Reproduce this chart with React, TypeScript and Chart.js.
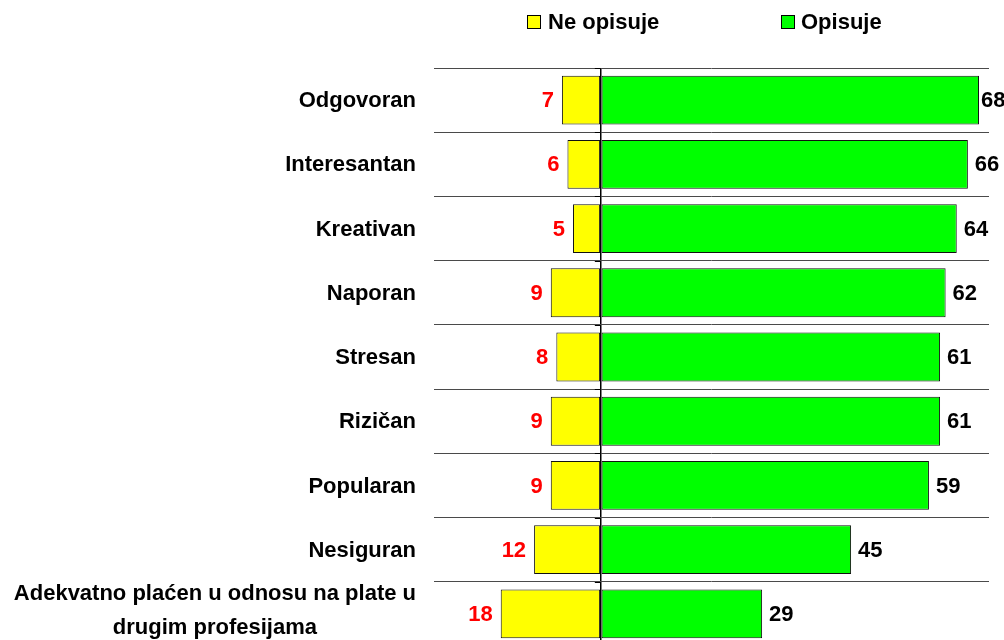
import React, { useEffect, useRef } from "react";
import { Chart, registerables } from "chart.js";

Chart.register(...registerables);

const categories: (string | string[])[] = [
  "Odgovoran",
  "Interesantan",
  "Kreativan",
  "Naporan",
  "Stresan",
  "Rizičan",
  "Popularan",
  "Nesiguran",
  ["Adekvatno plaćen u odnosu na plate u", "drugim profesijama"],
];
const opisuje = [68, 66, 64, 62, 61, 61, 59, 45, 29];
const neOpisuje = [7, 6, 5, 9, 8, 9, 9, 12, 18];
const seriesNames = ["Ne opisuje", "Opisuje"];
const seriesColors = ["#FFFF00", "#00FF00"];

const FONT = "bold 22px 'Liberation Sans', Arial, sans-serif";

const labelsPlugin = {
  id: "customLabels",
  afterDatasetsDraw(chart: any) {
    const ctx = chart.ctx;
    ctx.save();
    // small tick marks on the zero axis at category boundaries
    const xScale = chart.scales.x;
    const yScale = chart.scales.y;
    const x0 = xScale.getPixelForValue(0);
    ctx.strokeStyle = "#000000";
    ctx.lineWidth = 1;
    for (let i = 0; i <= categories.length; i++) {
      const yy = Math.round(yScale.getPixelForValue(i - 0.5)) + 0.5;
      ctx.beginPath();
      ctx.moveTo(x0 - 6, yy);
      ctx.lineTo(x0, yy);
      ctx.stroke();
    }
    ctx.font = FONT;
    ctx.textBaseline = "middle";
    chart.data.datasets.forEach((ds: any, di: number) => {
      const meta = chart.getDatasetMeta(di);
      meta.data.forEach((bar: any, i: number) => {
        const v = di === 0 ? neOpisuje[i] : opisuje[i];
        const txt = String(v);
        if (di === 0) {
          ctx.fillStyle = "#FF0000";
          ctx.textAlign = "right";
          ctx.fillText(txt, bar.x - 8, bar.y + 1);
        } else {
          ctx.fillStyle = "#000000";
          ctx.textAlign = "left";
          const w = ctx.measureText(txt).width;
          const tx = Math.min(bar.x + 7, Math.max(bar.x + 2, chart.width - w));
          ctx.fillText(txt, tx, bar.y + 1);
        }
      });
    });
    // category labels
    const rightX = chart.chartArea.left - 18;
    ctx.fillStyle = "#000000";
    categories.forEach((c, i) => {
      const cy = yScale.getPixelForValue(i);
      if (Array.isArray(c)) {
        const maxW = Math.max(...c.map((l) => ctx.measureText(l).width));
        const cx = rightX - maxW / 2;
        ctx.textAlign = "center";
        const lh = 34;
        c.forEach((line, j) => {
          ctx.fillText(line, cx, cy - 3 + (j - (c.length - 1) / 2) * lh);
        });
      } else {
        ctx.textAlign = "right";
        ctx.fillText(c, rightX, cy + 1);
      }
    });
    ctx.restore();
  },
};

export default function App() {
  const ref = useRef<HTMLCanvasElement | null>(null);
  useEffect(() => {
    document.body.style.overflow = "hidden";
    const canvas = ref.current!;
    const chart = new Chart(canvas, {
      type: "bar",
      data: {
        labels: categories as any,
        datasets: [
          {
            label: seriesNames[0],
            data: neOpisuje.map((v) => -v),
            backgroundColor: seriesColors[0],
            borderColor: "#111111",
            borderWidth: 1,
            borderSkipped: false,
            barPercentage: 0.76,
            categoryPercentage: 1,
          },
          {
            label: seriesNames[1],
            data: opisuje,
            backgroundColor: seriesColors[1],
            borderColor: "#111111",
            borderWidth: 1,
            borderSkipped: false,
            barPercentage: 0.76,
            categoryPercentage: 1,
          },
        ],
      },
      options: {
        indexAxis: "y",
        responsive: false,
        animation: false,
        layout: { padding: { left: 434, right: 15, top: 68, bottom: 4 } },
        plugins: { legend: { display: false }, tooltip: { enabled: false } },
        scales: {
          x: {
            stacked: true,
            min: -30,
            max: 69.8,
            afterBuildTicks: (scale: any) => {
              scale.ticks = [{ value: 0 }];
            },
            ticks: { display: false },
            grid: {
              drawTicks: false,
              color: "#000000",
              lineWidth: 1.5,
            },
            border: { display: false },
          },
          y: {
            stacked: true,
            offset: true,
            ticks: { display: false },
            grid: { drawTicks: false, color: "#4a4a4a", lineWidth: 1, offset: true },
            border: { display: false },
          },
        },
      },
      plugins: [labelsPlugin],
    });
    return () => chart.destroy();
  }, []);

  const legendText: React.CSSProperties = {
    position: "absolute",
    top: 8,
    font: FONT,
    lineHeight: "28px",
    color: "#000",
    whiteSpace: "nowrap",
  };
  const box = (color: string, left: number): React.CSSProperties => ({
    position: "absolute",
    left,
    top: 15,
    width: 12,
    height: 12,
    background: color,
    border: "1px solid #000",
  });

  return (
    <div style={{ position: "absolute", left: 0, top: 0, width: 1004, height: 640, overflow: "hidden", background: "#fff" }}>
      <canvas ref={ref} width={1004} height={650} style={{ position: "absolute", left: 0, top: 0 }} />
      <div style={box(seriesColors[0], 527)} />
      <div style={{ ...legendText, left: 548 }}>{seriesNames[0]}</div>
      <div style={box(seriesColors[1], 781)} />
      <div style={{ ...legendText, left: 801 }}>{seriesNames[1]}</div>
    </div>
  );
}
